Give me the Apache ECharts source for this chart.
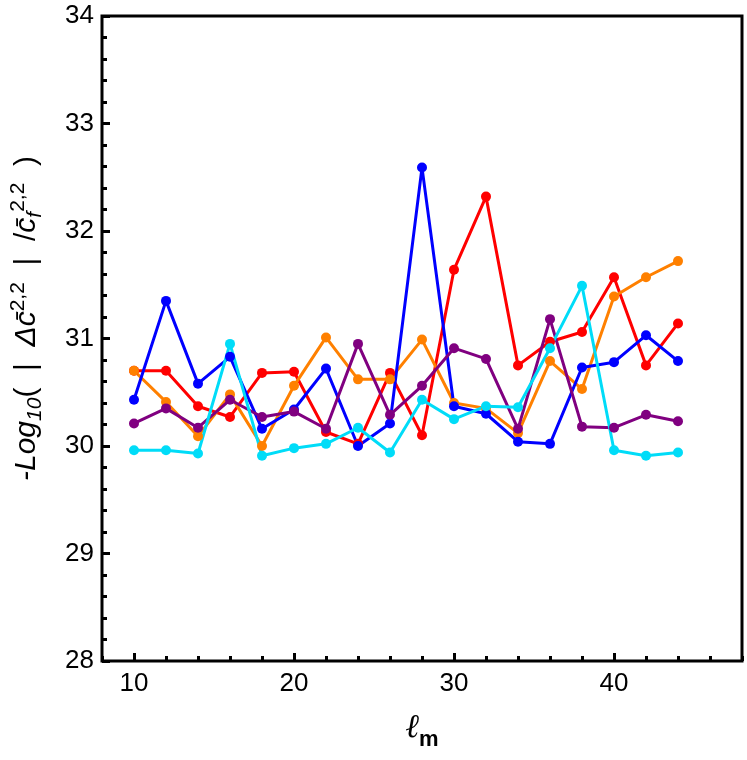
<!DOCTYPE html>
<html>
<head>
<meta charset="utf-8">
<script src="https://cdn.jsdelivr.net/npm/echarts@6/dist/echarts.min.js"></script>
<style>
  html, body { margin: 0; padding: 0; background: #fff; }
  #chart { width: 747px; height: 760px; }
</style>
</head>
<body>
<div id="chart"></div>
<script>
// l_m values along the x axis
const lm = [10, 12, 14, 16, 18, 20, 22, 24, 26, 28, 30, 32, 34, 36, 38, 40, 42, 44];

// -Log10 values, one array per curve
const redVals    = [30.70, 30.70, 30.37, 30.27, 30.68, 30.69, 30.13, 30.02, 30.68, 30.10, 31.64, 32.32, 30.75, 30.97, 31.06, 31.57, 30.75, 31.14];
const orangeVals = [30.70, 30.41, 30.09, 30.48, 30.00, 30.56, 31.01, 30.62, 30.62, 30.99, 30.40, 30.35, 30.12, 30.79, 30.53, 31.39, 31.57, 31.72];
const blueVals   = [30.43, 31.35, 30.58, 30.83, 30.16, 30.34, 30.72, 30.00, 30.21, 32.59, 30.37, 30.30, 30.04, 30.02, 30.73, 30.78, 31.03, 30.79];
const purpleVals = [30.21, 30.35, 30.17, 30.43, 30.27, 30.32, 30.16, 30.95, 30.29, 30.56, 30.91, 30.81, 30.16, 31.18, 30.18, 30.17, 30.29, 30.23];
const cyanVals   = [29.96, 29.96, 29.93, 30.95, 29.91, 29.98, 30.02, 30.17, 29.94, 30.43, 30.25, 30.37, 30.36, 30.91, 31.49, 29.96, 29.91, 29.94];

const xMajorTicks = [10, 20, 30, 40];

const curves = [
  { name: 'red',    color: '#ff0000', vals: redVals },
  { name: 'orange', color: '#ff8000', vals: orangeVals },
  { name: 'blue',   color: '#0000ff', vals: blueVals },
  { name: 'purple', color: '#800080', vals: purpleVals },
  { name: 'cyan',   color: '#00dcf8', vals: cyanVals }
];

const fontFam = 'Liberation Sans, Arial, sans-serif';

const chart = echarts.init(document.getElementById('chart'), null, { renderer: 'canvas' });

chart.setOption({
  animation: false,
  backgroundColor: '#fff',
  grid: {
    left: 97, right: 5, top: 16, bottom: 99,
    show: true,
    borderColor: '#000',
    borderWidth: 3
  },
  xAxis: [{
    type: 'value',
    min: 8,
    max: 48,
    interval: 2,
    axisLine: { show: false },
    splitLine: { show: false },
    axisTick: { inside: true, length: 5, lineStyle: { color: '#000', width: 3 } },
    axisLabel: {
      margin: 10,
      color: '#000',
      fontSize: 26,
      fontFamily: fontFam,
      formatter: v => (v % 10 === 0 && v > 8 && v < 48) ? String(v) : ''
    },
    name: '{l|ℓ}{m|m}',
    nameLocation: 'middle',
    nameGap: 48,
    nameTextStyle: {
      rich: {
        l: { fontSize: 33, fontStyle: 'italic', fontFamily: 'DejaVu Serif', color: '#000', lineHeight: 36, verticalAlign: 'bottom' },
        m: { fontSize: 22, fontFamily: fontFam, fontWeight: 'bold', color: '#000', lineHeight: 26, verticalAlign: 'bottom', padding: [0, 0, -6, 0] }
      }
    }
  }, {
    type: 'value',
    position: 'bottom',
    min: 8,
    max: 48,
    axisLine: { show: false },
    splitLine: { show: false },
    axisLabel: { show: false },
    axisTick: { inside: true, length: 8, customValues: xMajorTicks, lineStyle: { color: '#000', width: 3 } }
  }],
  yAxis: {
    type: 'value',
    min: 28,
    max: 34,
    interval: 1,
    axisLine: { show: false },
    splitLine: { show: false },
    axisTick: { inside: true, length: 8, lineStyle: { color: '#000', width: 3 } },
    minorTick: { show: true, splitNumber: 5, length: 5, lineStyle: { color: '#000', width: 3 } },
    minorSplitLine: { show: false },
    axisLabel: { margin: 8, color: '#000', fontSize: 26, fontFamily: fontFam },
    name: '{it|-Log}{sub|10}{n|(  |  }{it|Δc\u0304}{sup|2,2}{n|  |  /}{it|c\u0304}{subf|f}{sup|2,2}{n|  )}',
    nameLocation: 'middle',
    nameRotate: 90,
    nameGap: 56,
    nameTextStyle: {
      padding: [0, 0, 0, 40],
      rich: {
        n:    { fontSize: 30, fontFamily: fontFam, color: '#000', lineHeight: 38 },
        it:   { fontSize: 30, fontFamily: fontFam, fontStyle: 'italic', color: '#000', lineHeight: 38 },
        sub:  { fontSize: 21, fontFamily: fontFam, fontStyle: 'italic', color: '#000', lineHeight: 21, verticalAlign: 'bottom' },
        subf: { fontSize: 21, fontFamily: fontFam, fontStyle: 'italic', color: '#000', lineHeight: 21, verticalAlign: 'bottom' },
        sup:  { fontSize: 21, fontFamily: fontFam, color: '#000', lineHeight: 21, verticalAlign: 'top' }
      }
    }
  },
  series: curves.map(c => ({
    name: c.name,
    type: 'line',
    xAxisIndex: 0,
    data: lm.map((x, i) => [x, c.vals[i]]),
    symbol: 'circle',
    symbolSize: 10,
    showSymbol: true,
    color: c.color,
    lineStyle: { color: c.color, width: 3 },
    itemStyle: { color: c.color },
    emphasis: { disabled: true }
  }))
});
</script>
</body>
</html>
